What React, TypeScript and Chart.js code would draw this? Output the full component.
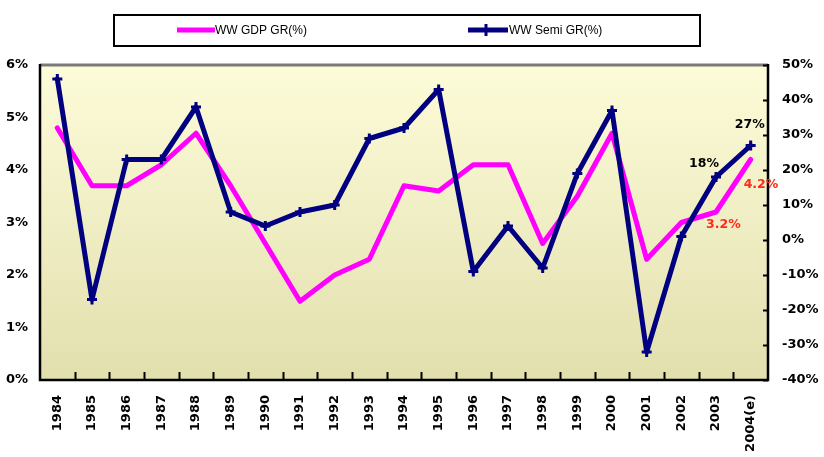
import { useEffect, useRef } from 'react';
import { Chart, registerables } from 'chart.js';

Chart.register(...registerables);

const WIDTH = 824;
const HEIGHT = 457;

// Years on the category axis
const categories = [
  '1984', '1985', '1986', '1987', '1988', '1989', '1990', '1991', '1992', '1993',
  '1994', '1995', '1996', '1997', '1998', '1999', '2000', '2001', '2002', '2003', '2004(e)',
];

// Worldwide GDP growth rate, % (left axis)
const gdpGrowth = [
  4.8, 3.7, 3.7, 4.1, 4.7, 3.7, 2.6, 1.5, 2.0, 2.3,
  3.7, 3.6, 4.1, 4.1, 2.6, 3.5, 4.7, 2.3, 3.0, 3.2, 4.2,
];

// Worldwide semiconductor growth rate, % (right axis)
const semiGrowth = [
  46, -17, 23, 23, 38, 8, 4, 8, 10, 29,
  32, 43, -9, 4, -8, 19, 37, -32, 1, 18, 27,
];

const gdpLabel = 'WW GDP GR(%)';
const semiLabel = 'WW Semi GR(%)';

// Points that carry a value callout (index into the series)
const semiCalloutIdx = [19, 20];
const gdpCalloutIdx = [19, 20];

const PINK = '#ff00ff';
const NAVY = '#000080';
const CALLOUT_RED = '#ff2a1a';
const FONT_FAMILY = '"DejaVu Sans", "Liberation Sans", Arial, sans-serif';
const TICK_FONT = { family: FONT_FAMILY, size: 13, weight: 'bold' as const };

const chartDecor = {
  id: 'chartDecor',
  beforeDraw(chart: any) {
    const { ctx, chartArea } = chart;
    const { left, top, right, bottom } = chartArea;
    const g = ctx.createLinearGradient(0, top, 0, bottom);
    g.addColorStop(0, '#fdfcd9');
    g.addColorStop(1, '#e2dfae');
    ctx.save();
    ctx.fillStyle = g;
    ctx.fillRect(left, top, right - left, bottom - top);
    ctx.restore();
  },
  afterDatasetsDraw(chart: any) {
    const { ctx, chartArea, scales } = chart;
    const { left, top, right, bottom } = chartArea;
    ctx.save();

    // frame: grey top edge, black axes
    ctx.lineCap = 'butt';
    ctx.strokeStyle = '#7a7a7a';
    ctx.lineWidth = 3;
    ctx.beginPath();
    ctx.moveTo(left, top);
    ctx.lineTo(right, top);
    ctx.stroke();

    ctx.strokeStyle = '#000';
    ctx.lineWidth = 2.5;
    ctx.beginPath();
    ctx.moveTo(left, top - 1);
    ctx.lineTo(left, bottom);
    ctx.lineTo(right, bottom);
    ctx.lineTo(right, top - 1);
    ctx.stroke();

    // category boundary ticks pointing up into the plot
    ctx.lineWidth = 2;
    const n = categories.length;
    const step = (right - left) / n;
    for (let k = 1; k < n; k++) {
      const x = Math.round(left + k * step) + 0.5;
      ctx.beginPath();
      ctx.moveTo(x, bottom);
      ctx.lineTo(x, bottom - 8);
      ctx.stroke();
    }

    // right axis ticks pointing inward
    const y1 = scales.y1;
    y1.ticks.forEach((t: any) => {
      const y = Math.round(y1.getPixelForValue(t.value)) + 0.5;
      ctx.beginPath();
      ctx.moveTo(right, y);
      ctx.lineTo(right - 5, y);
      ctx.stroke();
    });

    // value callouts
    ctx.font = `bold 12.5px ${FONT_FAMILY}`;
    ctx.textBaseline = 'middle';
    const semiMeta = chart.getDatasetMeta(0);
    const gdpMeta = chart.getDatasetMeta(1);
    const semiOffsets: Record<number, [number, number]> = { 19: [3, -13], 20: [14, -21] };
    semiCalloutIdx.forEach((i) => {
      const p = semiMeta.data[i];
      const [dx, dy] = semiOffsets[i];
      ctx.fillStyle = '#000';
      ctx.textAlign = 'right';
      ctx.fillText(`${semiGrowth[i]}%`, p.x + dx, p.y + dy);
    });
    const gdpOffsets: Record<number, [number, number]> = { 19: [-10, 13], 20: [-7, 25] };
    gdpCalloutIdx.forEach((i) => {
      const p = gdpMeta.data[i];
      const [dx, dy] = gdpOffsets[i];
      ctx.fillStyle = CALLOUT_RED;
      ctx.textAlign = 'left';
      ctx.fillText(`${gdpGrowth[i].toFixed(1)}%`, p.x + dx, p.y + dy);
    });

    // legend box
    ctx.strokeStyle = '#000';
    ctx.lineWidth = 2;
    ctx.strokeRect(114, 15, 586, 31);
    const ly = 30;
    ctx.lineWidth = 5;
    ctx.strokeStyle = PINK;
    ctx.beginPath();
    ctx.moveTo(177, ly);
    ctx.lineTo(215, ly);
    ctx.stroke();
    ctx.strokeStyle = NAVY;
    ctx.beginPath();
    ctx.moveTo(468, ly);
    ctx.lineTo(508, ly);
    ctx.stroke();
    ctx.lineWidth = 3;
    ctx.beginPath();
    ctx.moveTo(486, ly - 6);
    ctx.lineTo(486, ly + 6);
    ctx.stroke();

    ctx.fillStyle = '#000';
    ctx.textAlign = 'left';
    ctx.font = '12px "Liberation Sans", Arial, sans-serif';
    ctx.fillText(gdpLabel, 215, ly + 1);
    ctx.fillText(semiLabel, 509, ly + 1);

    ctx.restore();
  },
};

export default function App() {
  const canvasRef = useRef<HTMLCanvasElement | null>(null);

  useEffect(() => {
    const canvas = canvasRef.current;
    if (!canvas) return;
    const chart = new Chart(canvas, {
      type: 'line',
      data: {
        labels: categories,
        datasets: [
          {
            label: semiLabel,
            data: semiGrowth,
            yAxisID: 'y1',
            borderColor: NAVY,
            backgroundColor: NAVY,
            borderWidth: 5,
            borderJoinStyle: 'round',
            borderCapStyle: 'round',
            pointStyle: 'cross',
            pointRadius: 5,
            pointBorderWidth: 3,
            pointBorderColor: NAVY,
            tension: 0,
            order: 0,
          },
          {
            label: gdpLabel,
            data: gdpGrowth,
            yAxisID: 'y',
            borderColor: PINK,
            backgroundColor: PINK,
            borderWidth: 5,
            borderJoinStyle: 'round',
            borderCapStyle: 'round',
            pointRadius: 0,
            tension: 0,
            order: 1,
          },
        ],
      },
      options: {
        responsive: false,
        animation: false,
        layout: { padding: { top: 65, left: 0, right: 0, bottom: 0 } },
        plugins: {
          legend: { display: false },
          title: { display: false },
          tooltip: { enabled: false },
        },
        scales: {
          x: {
            offset: true,
            grid: { display: false, drawTicks: false },
            border: { display: false },
            ticks: {
              autoSkip: false,
              minRotation: 90,
              maxRotation: 90,
              padding: 15,
              color: '#000',
              font: TICK_FONT,
            },
            afterFit(scale: any) {
              scale.height = 77;
            },
          },
          y: {
            position: 'left',
            min: 0,
            max: 6,
            grid: { display: false, drawTicks: false },
            border: { display: false },
            ticks: {
              stepSize: 1,
              padding: 12,
              color: '#000',
              font: TICK_FONT,
              callback: (v: any) => `${v}%`,
            },
            afterFit(scale: any) {
              scale.width = 40;
            },
          },
          y1: {
            position: 'right',
            min: -40,
            max: 50,
            grid: { display: false, drawTicks: false },
            border: { display: false },
            ticks: {
              stepSize: 10,
              padding: 14,
              color: '#000',
              font: TICK_FONT,
              callback: (v: any) => `${v}%`,
            },
            afterFit(scale: any) {
              scale.width = 56;
            },
          },
        },
      },
      plugins: [chartDecor],
    });
    return () => chart.destroy();
  }, []);

  return (
    <div style={{ position: 'fixed', left: 0, top: 0, width: WIDTH, height: HEIGHT, background: '#fff' }}>
      <canvas ref={canvasRef} width={WIDTH} height={HEIGHT} style={{ width: WIDTH, height: HEIGHT, display: 'block' }} />
    </div>
  );
}
